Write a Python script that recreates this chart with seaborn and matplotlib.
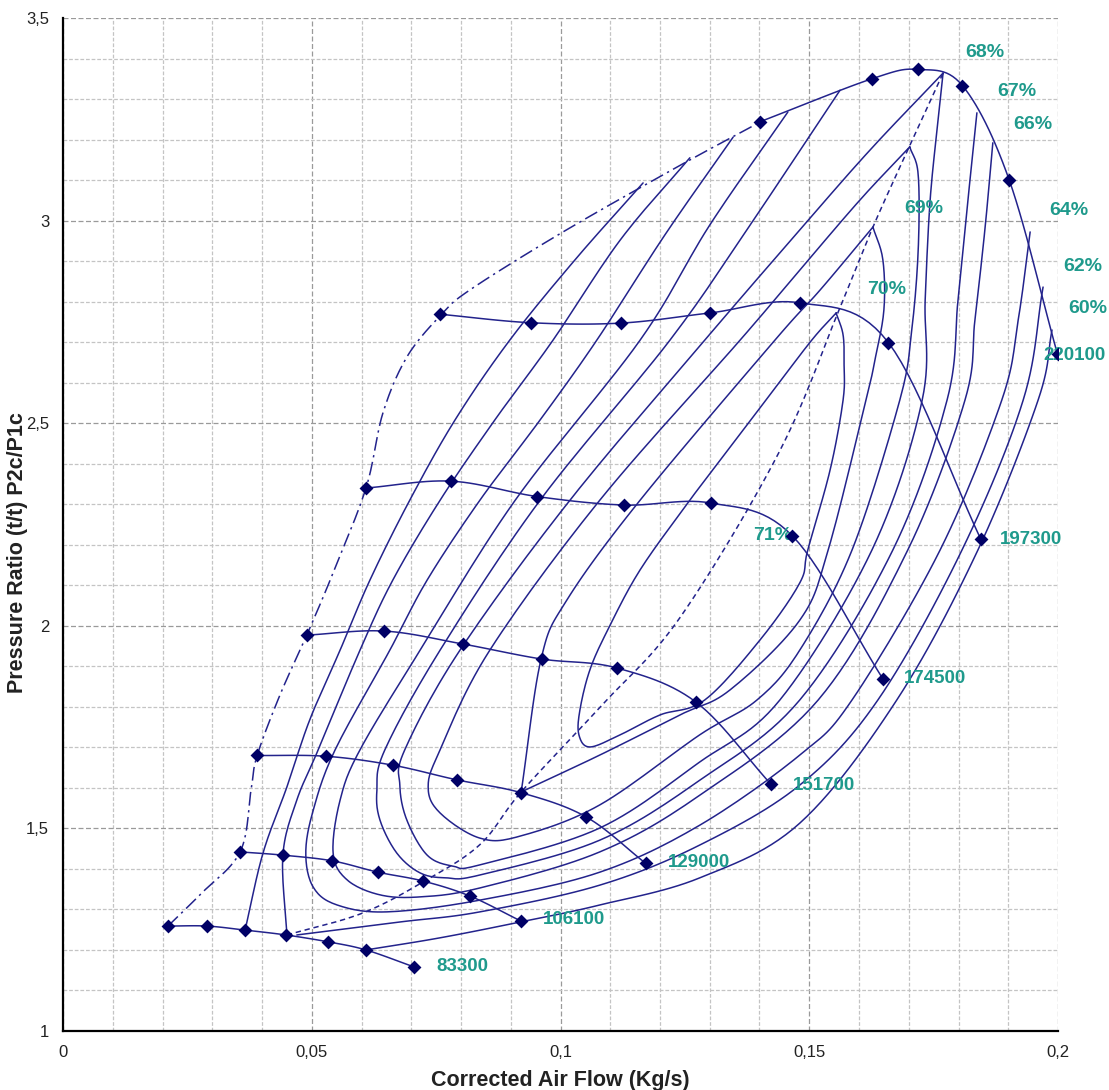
import numpy as np
import matplotlib
matplotlib.use("Agg")
import matplotlib.pyplot as plt
import seaborn as sns
from matplotlib.ticker import MultipleLocator, FuncFormatter

sns.set_theme(style="white")
plt.rcParams["font.family"] = ["Liberation Sans", "DejaVu Sans"]

LINE = "#23238c"
MARK = "#000066"
TEAL = "#1f9a8c"

# speed lines (rpm), corrected flow kg/s vs pressure ratio
speed_names = ["83300", "106100", "129000", "151700", "174500", "197300", "220100"]
flow_83300 = [0.0211, 0.0289, 0.0366, 0.0448, 0.0533, 0.0609, 0.0706]
pr_83300 = [1.259, 1.259, 1.249, 1.237, 1.220, 1.200, 1.158]
flow_106100 = [0.0356, 0.0442, 0.0541, 0.0633, 0.0724, 0.0818, 0.0921]
pr_106100 = [1.442, 1.434, 1.420, 1.392, 1.370, 1.333, 1.271]
flow_129000 = [0.0390, 0.0529, 0.0663, 0.0791, 0.0921, 0.1052, 0.1171]
pr_129000 = [1.680, 1.678, 1.656, 1.620, 1.588, 1.528, 1.414]
flow_151700 = [0.0490, 0.0646, 0.0804, 0.0962, 0.1113, 0.1272, 0.1423]
pr_151700 = [1.977, 1.987, 1.955, 1.918, 1.896, 1.812, 1.609]
flow_174500 = [0.0609, 0.0780, 0.0953, 0.1128, 0.1302, 0.1466, 0.1648]
pr_174500 = [2.340, 2.357, 2.319, 2.298, 2.303, 2.222, 1.869]
flow_197300 = [0.0757, 0.0940, 0.1121, 0.1300, 0.1481, 0.1659, 0.1845]
pr_197300 = [2.769, 2.748, 2.747, 2.772, 2.797, 2.699, 2.213]
flow_220100 = [0.1401, 0.1626, 0.1719, 0.1808, 0.1902, 0.1999]
pr_220100 = [3.244, 3.350, 3.373, 3.333, 3.100, 2.670]

speed_flows = [flow_83300, flow_106100, flow_129000, flow_151700, flow_174500, flow_197300, flow_220100]
speed_prs = [pr_83300, pr_106100, pr_129000, pr_151700, pr_174500, pr_197300, pr_220100]
speed_label_x = [0.0750, 0.0965, 0.1216, 0.1468, 0.1690, 0.1884, 0.1970]
speed_label_y = [1.158, 1.274, 1.417, 1.607, 1.869, 2.212, 2.666]

# surge line
surge_flow = [0.0211, 0.0275, 0.0356, 0.0378, 0.0390, 0.0436, 0.0490, 0.0541, 0.0609,
              0.0643, 0.0691, 0.0758, 0.0818, 0.1005, 0.1234, 0.1401]
surge_pr = [1.259, 1.336, 1.442, 1.595, 1.679, 1.829, 1.977, 2.125, 2.340,
            2.525, 2.663, 2.765, 2.829, 2.972, 3.132, 3.243]

# peak efficiency line
peak_flow = [0.0450, 0.0600, 0.0724, 0.0838, 0.0921, 0.1080, 0.1240, 0.1440, 0.1560, 0.1628, 0.1700, 0.1769]
peak_pr = [1.237, 1.290, 1.368, 1.460, 1.590, 1.800, 2.020, 2.430, 2.780, 2.984, 3.180, 3.364]

# efficiency contours
eff60_flow_a = [0.1166, 0.1029, 0.0898, 0.0788, 0.0697, 0.0617, 0.0557, 0.0496, 0.0450, 0.0402, 0.0366]
eff60_pr_a = [3.093, 2.903, 2.705, 2.508, 2.310, 2.113, 1.940, 1.768, 1.602, 1.439, 1.249]
eff60_flow_b = [0.0609, 0.0758, 0.0919, 0.1079, 0.1280, 0.1481, 0.1676, 0.1839, 0.1960, 0.1988]
eff60_pr_b = [1.200, 1.230, 1.269, 1.311, 1.378, 1.513, 1.817, 2.187, 2.557, 2.730]

eff62_flow_a = [0.1260, 0.1120, 0.0985, 0.0868, 0.0758, 0.0663, 0.0597, 0.0513, 0.0470, 0.0442, 0.0450]
eff62_pr_a = [3.155, 2.952, 2.705, 2.508, 2.310, 2.113, 1.940, 1.694, 1.570, 1.434, 1.237]
eff62_flow_b = [0.0470, 0.0677, 0.0838, 0.1079, 0.1280, 0.1481, 0.1638, 0.1807, 0.1930, 0.1970]
eff62_pr_b = [1.237, 1.269, 1.294, 1.360, 1.459, 1.607, 1.817, 2.187, 2.557, 2.836]

eff64_flow = [0.1347, 0.1210, 0.1073, 0.0959, 0.0838, 0.0732, 0.0657, 0.0547, 0.0503, 0.0488, 0.0503,
              0.0551, 0.0651, 0.0838, 0.1079, 0.1280, 0.1481, 0.1586, 0.1763, 0.1887, 0.1920, 0.1944]
eff64_pr = [3.206, 2.965, 2.705, 2.508, 2.310, 2.113, 1.940, 1.694, 1.545, 1.439, 1.355,
            1.311, 1.294, 1.323, 1.392, 1.508, 1.681, 1.817, 2.187, 2.557, 2.755, 2.972]

eff66_flow = [0.1457, 0.1300, 0.1160, 0.0909, 0.0718, 0.0597, 0.0557, 0.0543, 0.0571, 0.0637, 0.0718,
              0.0838, 0.1079, 0.1280, 0.1518, 0.1698, 0.1813, 0.1833, 0.1853, 0.1869]
eff66_pr = [3.268, 2.989, 2.705, 2.310, 1.940, 1.694, 1.570, 1.439, 1.373, 1.336, 1.331,
            1.353, 1.442, 1.582, 1.817, 2.187, 2.557, 2.755, 2.977, 3.192]

eff67_flow = [0.1562, 0.1381, 0.1220, 0.0959, 0.0758, 0.0647, 0.0631, 0.0637, 0.0671, 0.0718, 0.0770,
              0.0838, 0.1079, 0.1280, 0.1481, 0.1668, 0.1777, 0.1799, 0.1819, 0.1837]
eff67_pr = [3.322, 2.989, 2.705, 2.310, 1.940, 1.694, 1.595, 1.521, 1.439, 1.390, 1.378,
            1.385, 1.471, 1.619, 1.817, 2.187, 2.557, 2.804, 3.051, 3.266]

eff68_flow = [0.1769, 0.1622, 0.1481, 0.1290, 0.1019, 0.0798, 0.0687, 0.0677, 0.0691, 0.0732, 0.0784,
              0.0838, 0.1079, 0.1280, 0.1441, 0.1626, 0.1727, 0.1733, 0.1743, 0.1759, 0.1769]
eff68_pr = [3.364, 3.174, 2.977, 2.705, 2.310, 1.940, 1.694, 1.607, 1.521, 1.434, 1.407,
            1.410, 1.501, 1.664, 1.817, 2.187, 2.557, 2.804, 3.051, 3.248, 3.364]

eff69_flow = [0.1702, 0.1602, 0.1481, 0.1361, 0.1079, 0.0858, 0.0758, 0.0734, 0.0758, 0.0838, 0.0919,
              0.1079, 0.1280, 0.1395, 0.1481, 0.1586, 0.1682, 0.1706, 0.1719, 0.1719, 0.1702]
eff69_pr = [3.182, 3.051, 2.878, 2.705, 2.310, 1.940, 1.694, 1.602, 1.538, 1.476, 1.481,
            1.558, 1.731, 1.817, 1.940, 2.187, 2.557, 2.730, 2.927, 3.113, 3.182]

eff70_flow_a = [0.1628, 0.1522, 0.1431, 0.1160, 0.1013, 0.0961, 0.0921]
eff70_pr_a = [2.984, 2.829, 2.705, 2.310, 2.064, 1.918, 1.590]
eff70_flow_b = [0.0921, 0.1079, 0.1240, 0.1341, 0.1481, 0.1538, 0.1614, 0.1632, 0.1650, 0.1648, 0.1628]
eff70_pr_b = [1.590, 1.681, 1.780, 1.842, 2.014, 2.187, 2.557, 2.656, 2.779, 2.903, 2.984]

eff71_flow = [0.1554, 0.1505, 0.1421, 0.1321, 0.1260, 0.1160, 0.1095, 0.1059, 0.1039, 0.1037, 0.1059,
              0.1120, 0.1200, 0.1290, 0.1401, 0.1481, 0.1497, 0.1542, 0.1568, 0.1570, 0.1568, 0.1554]
eff71_pr = [2.772, 2.705, 2.570, 2.409, 2.310, 2.138, 1.990, 1.891, 1.792, 1.731, 1.701,
            1.731, 1.780, 1.817, 1.965, 2.106, 2.187, 2.385, 2.557, 2.644, 2.718, 2.772]

eff_paths = [
    (eff60_flow_a, eff60_pr_a), (eff60_flow_b, eff60_pr_b),
    (eff62_flow_a, eff62_pr_a), (eff62_flow_b, eff62_pr_b),
    (eff64_flow, eff64_pr), (eff66_flow, eff66_pr), (eff67_flow, eff67_pr),
    (eff68_flow, eff68_pr), (eff69_flow, eff69_pr),
    (eff70_flow_a, eff70_pr_a), (eff70_flow_b, eff70_pr_b),
    (eff71_flow, eff71_pr),
]

eff_labels = ["68%", "67%", "66%", "64%", "62%", "60%", "69%", "70%", "71%"]
eff_label_x = [0.1813, 0.1877, 0.1910, 0.1982, 0.2010, 0.2020, 0.1690, 0.1616, 0.1387]
eff_label_y = [3.414, 3.318, 3.236, 3.025, 2.886, 2.784, 3.030, 2.829, 2.222]


def smooth(xs, ys, n=14):
    # catmull-rom, like excel's smoothed lines
    x = np.asarray(xs, float)
    y = np.asarray(ys, float)
    if len(x) < 3:
        return x, y
    px = np.r_[2 * x[0] - x[1], x, 2 * x[-1] - x[-2]]
    py = np.r_[2 * y[0] - y[1], y, 2 * y[-1] - y[-2]]
    t = np.linspace(0, 1, n, endpoint=False)
    outx, outy = [], []
    for i in range(1, len(px) - 2):
        for p, out in ((px, outx), (py, outy)):
            p0, p1, p2, p3 = p[i - 1], p[i], p[i + 1], p[i + 2]
            out.append(0.5 * (2 * p1 + (-p0 + p2) * t + (2 * p0 - 5 * p1 + 4 * p2 - p3) * t ** 2
                              + (-p0 + 3 * p1 - 3 * p2 + p3) * t ** 3))
    outx.append([x[-1]])
    outy.append([y[-1]])
    return np.concatenate(outx), np.concatenate(outy)


def draw(ax, xs, ys, **kw):
    sx, sy = smooth(xs, ys)
    sns.lineplot(x=sx, y=sy, sort=False, estimator=None, ax=ax, color=LINE, **kw)


fig = plt.figure(figsize=(11.09, 10.90), dpi=100)
ax = fig.add_axes([63 / 1109, 1 - 1031 / 1090, 995 / 1109, 1013 / 1090])

for fx, pr in eff_paths:
    draw(ax, fx, pr, lw=1.1)

draw(ax, surge_flow, surge_pr, lw=1.1, linestyle=(0, (9, 3, 1.5, 3)))
draw(ax, peak_flow, peak_pr, lw=1.1, linestyle=(0, (3.5, 2.5)))

for fx, pr in zip(speed_flows, speed_prs):
    draw(ax, fx, pr, lw=1.1)
    sns.scatterplot(x=fx, y=pr, marker="D", s=50, color=MARK, linewidth=0, ax=ax, zorder=5)

for name, lx, ly in zip(speed_names, speed_label_x, speed_label_y):
    ax.text(lx, ly, name, color=TEAL, fontsize=13.5, fontweight="bold", va="center", ha="left")
for name, lx, ly in zip(eff_labels, eff_label_x, eff_label_y):
    ax.text(lx, ly, name, color=TEAL, fontsize=14, fontweight="bold", va="center", ha="left",
            clip_on=False)

ax.set_xlim(0, 0.2)
ax.set_ylim(1, 3.5)
ax.xaxis.set_major_locator(MultipleLocator(0.05))
ax.xaxis.set_minor_locator(MultipleLocator(0.01))
ax.yaxis.set_major_locator(MultipleLocator(0.5))
ax.yaxis.set_minor_locator(MultipleLocator(0.1))
fmt = FuncFormatter(lambda v, _: f"{v:g}".replace(".", ","))
ax.xaxis.set_major_formatter(fmt)
ax.yaxis.set_major_formatter(fmt)
ax.grid(which="major", color="#9a9a9a", linestyle=(0, (4, 2)), lw=0.9)
ax.grid(which="minor", color="#c4c4c4", linestyle=(0, (3, 1.5)), lw=0.9)
ax.set_axisbelow(True)
ax.tick_params(which="major", direction="out", length=6, width=1.2, color="black",
               labelsize=12, labelcolor="#222222", pad=4)
ax.tick_params(which="minor", length=0)
for side in ("top", "right"):
    ax.spines[side].set_visible(False)
for side in ("left", "bottom"):
    ax.spines[side].set_color("black")
    ax.spines[side].set_linewidth(1.6)

ax.set_xlabel("Corrected Air Flow (Kg/s)", fontsize=15.5, fontweight="bold", color="#222222", va="center")
ax.set_ylabel("Pressure Ratio (t/t) P2c/P1c", fontsize=15.5, fontweight="bold", color="#222222", va="center")
ax.xaxis.set_label_coords(0.5, -0.0484)
ax.yaxis.set_label_coords(-0.046, 0.472)

fig.savefig("out.png", dpi=100)
